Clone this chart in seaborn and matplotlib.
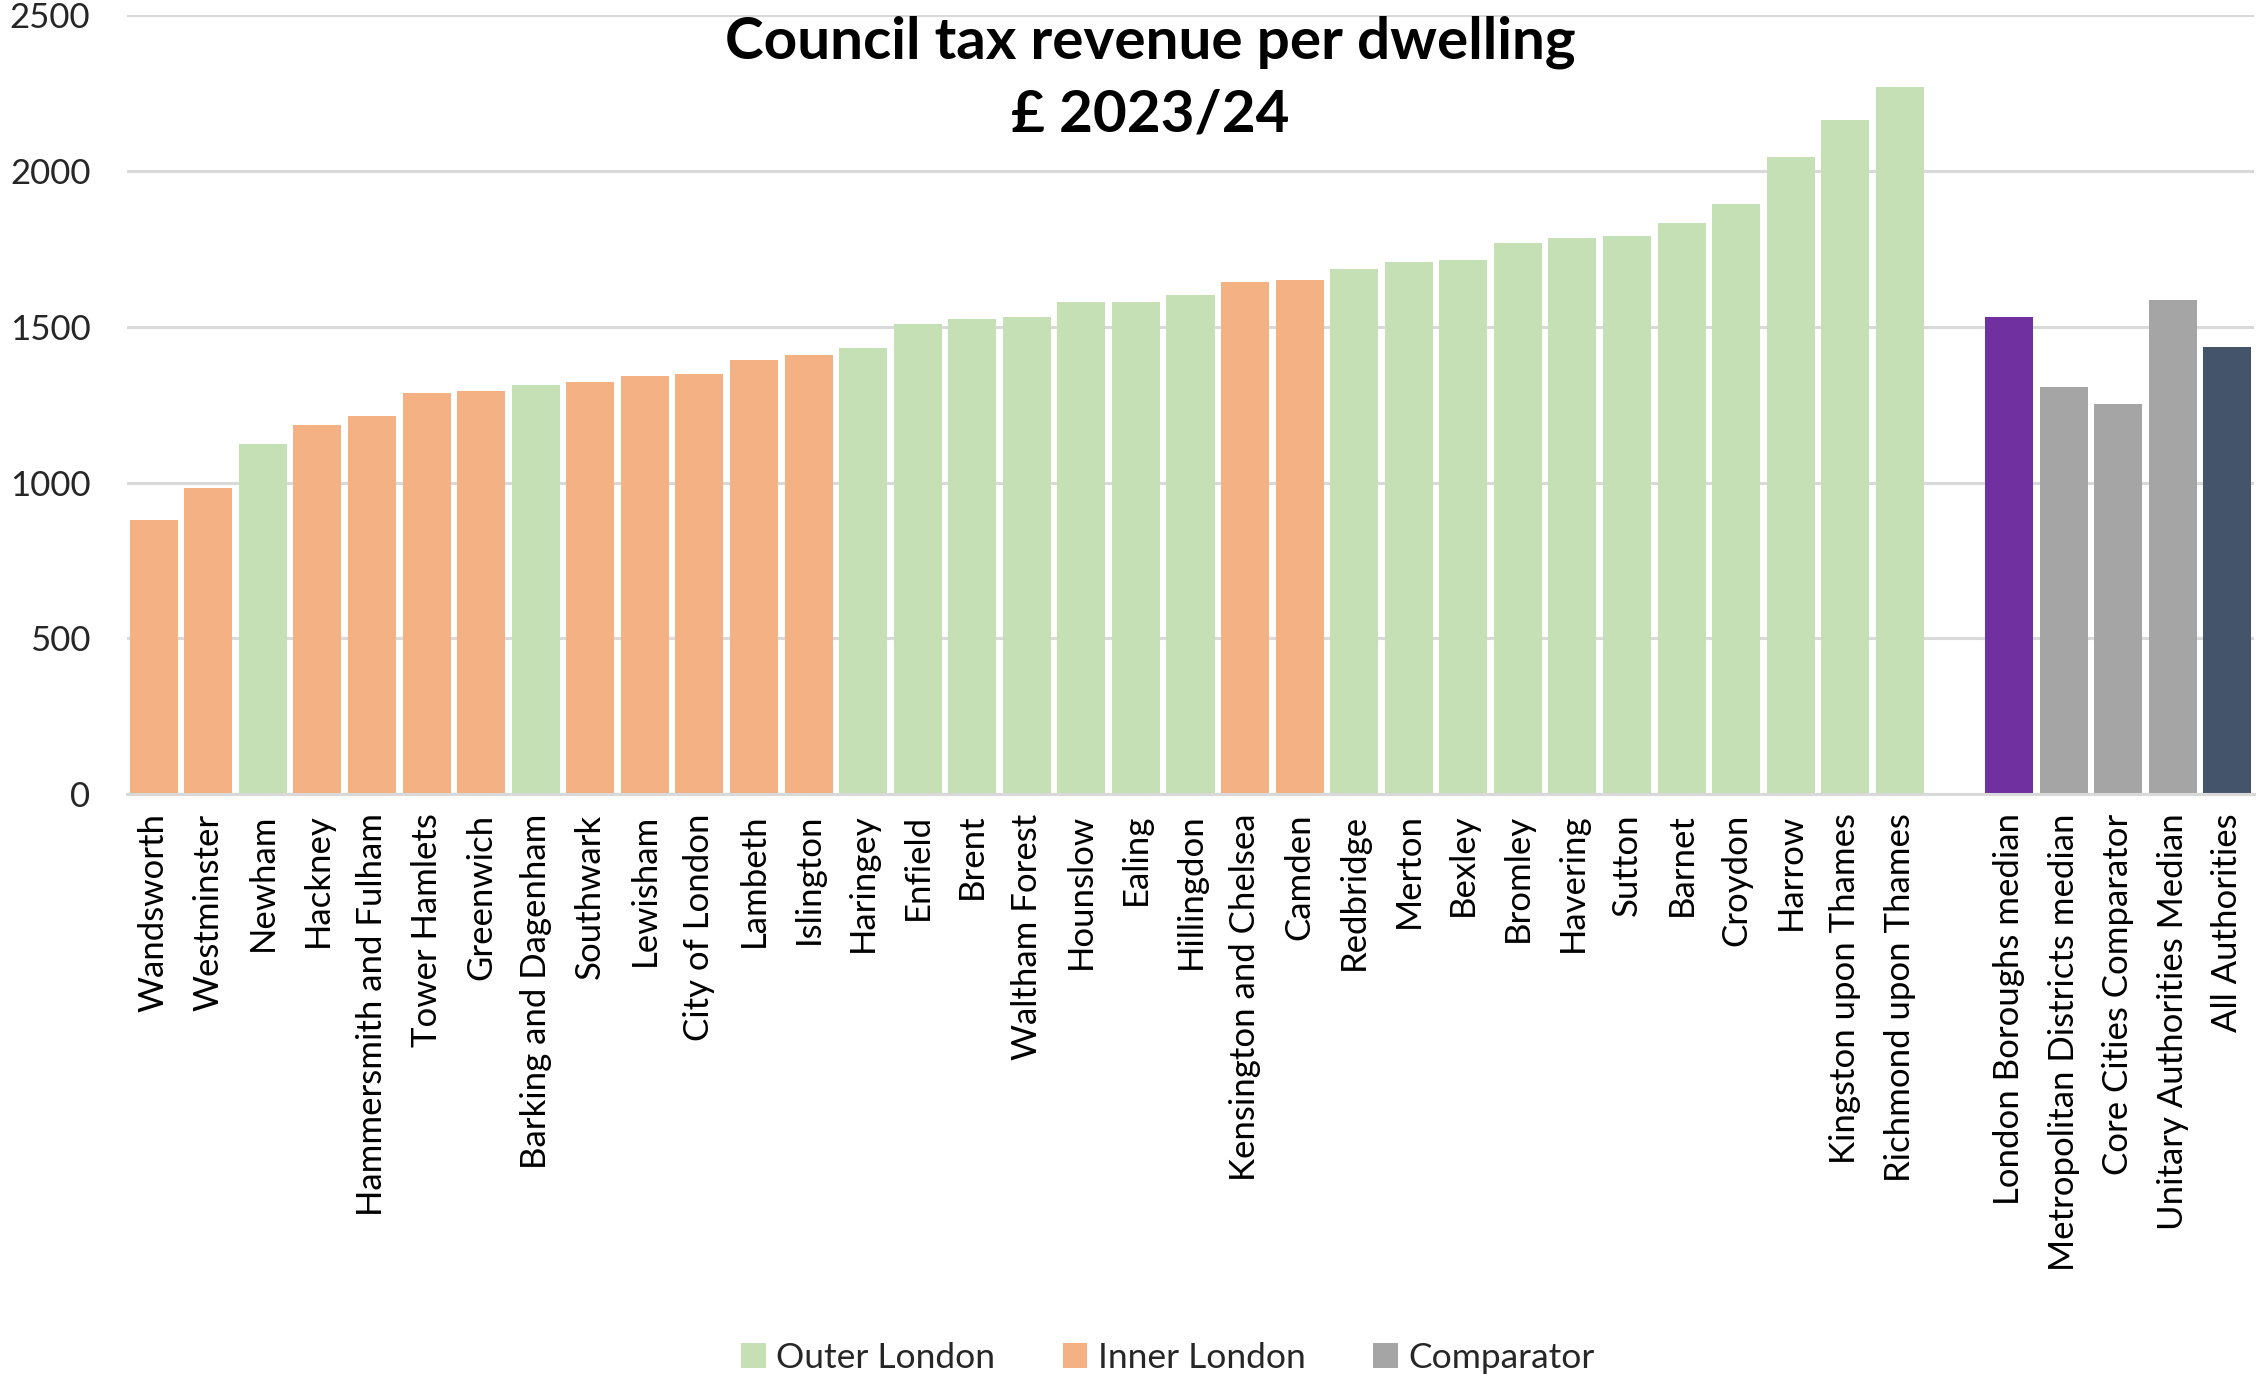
import matplotlib
matplotlib.use("Agg")
import matplotlib.pyplot as plt
from matplotlib.patches import Patch
import seaborn as sns
import pandas as pd

# London boroughs, sorted by council tax revenue per dwelling
boroughs = [
    "Wandsworth", "Westminster", "Newham", "Hackney", "Hammersmith and Fulham",
    "Tower Hamlets", "Greenwich", "Barking and Dagenham", "Southwark", "Lewisham",
    "City of London", "Lambeth", "Islington", "Haringey", "Enfield", "Brent",
    "Waltham Forest", "Hounslow", "Ealing", "Hillingdon", "Kensington and Chelsea",
    "Camden", "Redbridge", "Merton", "Bexley", "Bromley", "Havering", "Sutton",
    "Barnet", "Croydon", "Harrow", "Kingston upon Thames", "Richmond upon Thames",
]
borough_values = [
    880, 984, 1124, 1186, 1214, 1287, 1293, 1314, 1322, 1342, 1349, 1392, 1411,
    1433, 1508, 1525, 1532, 1581, 1581, 1601, 1644, 1651, 1686, 1707, 1715,
    1769, 1784, 1791, 1833, 1896, 2044, 2163, 2269,
]
borough_groups = [
    "Inner London", "Inner London", "Outer London", "Inner London", "Inner London",
    "Inner London", "Inner London", "Outer London", "Inner London", "Inner London",
    "Inner London", "Inner London", "Inner London", "Outer London", "Outer London",
    "Outer London", "Outer London", "Outer London", "Outer London", "Outer London",
    "Inner London", "Inner London", "Outer London", "Outer London", "Outer London",
    "Outer London", "Outer London", "Outer London", "Outer London", "Outer London",
    "Outer London", "Outer London", "Outer London",
]

# Comparator averages
comparators = [
    "London Boroughs median", "Metropolitan Districts median",
    "Core Cities Comparator", "Unitary Authorities Median", "All Authorities",
]
comparator_values = [1532, 1307, 1251, 1587, 1434]
comparator_groups = ["London median", "Comparator", "Comparator", "Comparator", "All"]

palette = {
    "Outer London": "#C5E0B4",
    "Inner London": "#F4B183",
    "Comparator": "#A5A5A5",
    "London median": "#7030A0",
    "All": "#44546A",
}
legend_groups = ["Outer London", "Inner London", "Comparator"]

df = pd.DataFrame({
    "area": boroughs + comparators,
    "value": borough_values + comparator_values,
    "group": borough_groups + comparator_groups,
})
# an empty slot separates the boroughs from the comparators
order = boroughs + [" "] + comparators

sns.set_theme(style="white")
plt.rcParams["font.family"] = ["Lato", "DejaVu Sans"]

fig = plt.figure(figsize=(22.59, 13.76), dpi=100)
ax = fig.add_axes([0.056, 0.423, 0.942, 0.5658])

sns.barplot(
    data=df, x="area", y="value", hue="group", order=order,
    palette=palette, dodge=False, width=0.88, saturation=1,
    legend=False, ax=ax, linewidth=0,
)

ax.set_ylim(0, 2500)
ax.set_xlim(-0.5, len(order) - 0.5)
ax.set_yticks(range(0, 2501, 500))
ax.yaxis.grid(True, color="#D9D9D9", linewidth=2.2)
ax.set_axisbelow(True)
for side in ["left", "right", "top"]:
    ax.spines[side].set_visible(False)
ax.spines["bottom"].set_color("#D9D9D9")
ax.spines["bottom"].set_linewidth(2.2)
ax.set_xlabel("")
ax.set_ylabel("")
ax.tick_params(axis="y", labelsize=25, pad=26, length=0, colors="#262626")
ax.tick_params(axis="x", labelsize=25, pad=14, length=0, colors="#000000")
plt.setp(ax.get_xticklabels(), rotation=90, ha="center", va="top")

ax.text(0.481, 1.0, "Council tax revenue per dwelling\n£ 2023/24",
        transform=ax.transAxes, ha="center", va="top", fontsize=42,
        fontweight="bold", linespacing=1.45, color="#000000")

handles = [Patch(facecolor=palette[g], edgecolor="none", label=g) for g in legend_groups]
fig.legend(handles=handles, loc="lower center", bbox_to_anchor=(0.517, -0.014),
           ncol=3, frameon=False, fontsize=25.5, handlelength=0.7, handleheight=0.7,
           handletextpad=0.3, columnspacing=1.9, borderpad=0.1)

fig.savefig("out.png", dpi=100)
